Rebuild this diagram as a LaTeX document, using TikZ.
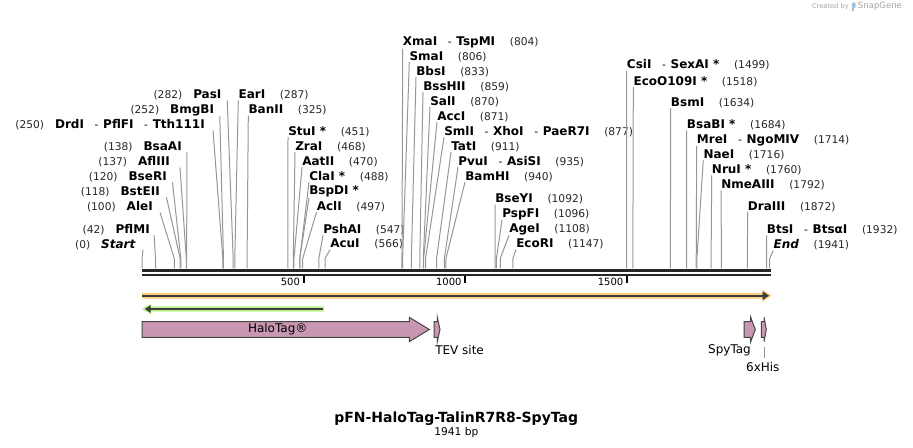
\documentclass[tikz,border=0pt]{standalone}
\usepackage{fontspec}
\setmainfont{DejaVu Sans}
\usepackage{tikz}
\usetikzlibrary{calc}

\definecolor{cutgray}{RGB}{150,150,150}
\definecolor{featpink}{RGB}{201,151,177}
\definecolor{featline}{RGB}{70,70,70}
\definecolor{orfglow}{RGB}{250,204,124}
\definecolor{primglow}{RGB}{188,244,140}
\definecolor{darkline}{RGB}{60,60,60}
\definecolor{marktext}{RGB}{165,165,165}
\definecolor{logoblue}{RGB}{160,196,224}

\newcommand{\enzname}[1]{{\fontsize{9}{10}\selectfont\bfseries #1}}
\newcommand{\enzpos}[1]{{\fontsize{8}{10}\selectfont\color{black!85}(#1)}\hspace{8.25pt}}
\newcommand{\enzat}[1]{\hspace{11pt}{\fontsize{8}{10}\selectfont\color{black!85}(#1)}}
\newcommand{\enzsep}{\hspace{8pt}{\fontsize{8}{10}\selectfont-}\hspace{3.5pt}}

\begin{document}
\begin{tikzpicture}[x=0.75pt,y=0.75pt,yscale=-1,xscale=1,
  lft/.style={anchor=east,inner sep=0pt},
  rgt/.style={anchor=west,inner sep=0pt},
  cut/.style={draw=cutgray,line width=0.75pt},
  bb/.style={draw=black!85,line width=2.2pt},
  tick/.style={draw=black,line width=1.3pt},
  feat/.style={draw=featline,fill=featpink,line width=0.75pt,line join=miter},
  flabel/.style={font=\fontsize{9}{10}\selectfont,inner sep=0pt}]
%set diagram size 913 x 448
\path[use as bounding box] (0,0) rectangle (913,448);

%Cut sites on the sequence
\foreach \n/\p in {Start/0,PflMI/42,AleI/100,BstEII/118,BseRI/120,AflIII/137,BsaAI/138,DrdI/250,BmgBI/252,PasI/282,EarI/287,BanII/325,StuI/451,ZraI/468,AatII/470,ClaI/488,BspDI/488,AclI/497,PshAI/547,AcuI/566,XmaI/804,SmaI/806,BbsI/833,BssHII/859,SalI/870,AccI/871,SmlI/877,TatI/911,PvuI/935,BamHI/940,BseYI/1092,PspFI/1096,AgeI/1108,EcoRI/1147,CsiI/1499,EcoO109I/1518,BsmI/1634,BsaBI/1684,MreI/1714,NaeI/1716,NruI/1760,NmeAIII/1792,DraIII/1872,BtsI/1932,End/1941}
  \coordinate (s\n) at ({142+0.32335*\p},268.5);

%Sequence backbone
\coordinate (bbL) at (142,270.3);
\coordinate (bbR) at (770.5,270.3);
\coordinate (bbL2) at (142,275);
\coordinate (bbR2) at (770.5,275);
\draw[bb] (bbL) -- (bbR);
\draw[bb] (bbL2) -- (bbR2);

%Ruler
\foreach \t in {500,1000,1500}{
  \coordinate (k\t) at ({142+0.32335*\t},276.5);
  \draw[tick] (k\t) -- ++(0,6.5);
  \node[anchor=east,inner sep=0pt,font=\fontsize{7.5}{9}\selectfont] (t\t) at ($(k\t)+(-3.5,5.5)$) {\t};
}

% Text Node -- left labels
\node[lft] (Start) at (136,244.3) {\enzpos{0}\textit{\enzname{Start}}};
\node[lft] (PflMI) at (150,229.5) {\enzpos{42}\enzname{PflMI}};
\node[lft] (AleI) at (153,207) {\enzpos{100}\enzname{AleI}};
\node[lft] (BstEII) at (160,192) {\enzpos{118}\enzname{BstEII}};
\node[lft] (BseRI) at (167,177) {\enzpos{120}\enzname{BseRI}};
\node[lft] (AflIII) at (170,162) {\enzpos{137}\enzname{AflIII}};
\node[lft] (BsaAI) at (182,147) {\enzpos{138}\enzname{BsaAI}};
\node[lft] (DrdI) at (205,125) {\enzpos{250}\enzname{DrdI}\enzsep\enzname{PflFI}\enzsep\enzname{Tth111I}};
\node[lft] (BmgBI) at (214.3,110.5) {\enzpos{252}\enzname{BmgBI}};
\node[lft] (PasI) at (221.7,95) {\enzpos{282}\enzname{PasI}};

\draw[cut] (sStart) -- ++(0,-10) -- ($(Start.south east)+(7,0)$);
\draw[cut] (sPflMI) -- ++(0,-10) -- ($(PflMI.south east)+(4,0)$);
\draw[cut] (sAleI) -- ++(0,-10) -- ($(AleI.south east)+(7,0)$);
\draw[cut] (sBstEII) -- ++(0,-10) -- ($(BstEII.south east)+(6.5,0)$);
\draw[cut] (sBseRI) -- ++(0,-10) -- ($(BseRI.south east)+(5.5,0)$);
\draw[cut] (sAflIII) -- ++(0,-10) -- ($(AflIII.south east)+(10,0)$);
\draw[cut] (sBsaAI) -- ++(0,-10) -- ($(BsaAI.south east)+(5,0)$);
\draw[cut] (sDrdI) -- ++(0,-10) -- ($(DrdI.south east)+(8,0)$);
\draw[cut] (sBmgBI) -- ++(0,-10) -- ($(BmgBI.south east)+(5.5,0)$);
\draw[cut] (sPasI) -- ++(0,-10) -- ($(PasI.south east)+(5.5,0)$);

% Text Node -- right labels
\node[rgt] (EarI) at (238.3,95) {\enzname{EarI}\enzat{287}};
\node[rgt] (BanII) at (248.3,110.3) {\enzname{BanII}\enzat{325}};
\node[rgt] (StuI) at (288,131.7) {\enzname{StuI *}\enzat{451}};
\node[rgt] (ZraI) at (295,146.7) {\enzname{ZraI}\enzat{468}};
\node[rgt] (AatII) at (302,161.7) {\enzname{AatII}\enzat{470}};
\node[rgt] (ClaI) at (309,176.7) {\enzname{ClaI *}\enzat{488}};
\node[rgt] (BspDI) at (309,191.7) {\enzname{BspDI *}};
\node[rgt] (AclI) at (316.5,206.7) {\enzname{AclI}\enzat{497}};
\node[rgt] (PshAI) at (323,229.5) {\enzname{PshAI}\enzat{547}};
\node[rgt] (AcuI) at (330,244.3) {\enzname{AcuI}\enzat{566}};
\node[rgt] (XmaI) at (402.7,42.7) {\enzname{XmaI}\enzsep\enzname{TspMI}\enzat{804}};
\node[rgt] (SmaI) at (409.3,56.7) {\enzname{SmaI}\enzat{806}};
\node[rgt] (BbsI) at (416,71.7) {\enzname{BbsI}\enzat{833}};
\node[rgt] (BssHII) at (423,86.7) {\enzname{BssHII}\enzat{859}};
\node[rgt] (SalI) at (430,101.7) {\enzname{SalI}\enzat{870}};
\node[rgt] (AccI) at (437,116.7) {\enzname{AccI}\enzat{871}};
\node[rgt] (SmlI) at (444,131.7) {\enzname{SmlI}\enzsep\enzname{XhoI}\enzsep\enzname{PaeR7I}\enzat{877}};
\node[rgt] (TatI) at (451,146.7) {\enzname{TatI}\enzat{911}};
\node[rgt] (PvuI) at (458,161.7) {\enzname{PvuI}\enzsep\enzname{AsiSI}\enzat{935}};
\node[rgt] (BamHI) at (465,176.7) {\enzname{BamHI}\enzat{940}};
\node[rgt] (BseYI) at (495,199.3) {\enzname{BseYI}\enzat{1092}};
\node[rgt] (PspFI) at (502,214.3) {\enzname{PspFI}\enzat{1096}};
\node[rgt] (AgeI) at (509,229.3) {\enzname{AgeI}\enzat{1108}};
\node[rgt] (EcoRI) at (516,244.3) {\enzname{EcoRI}\enzat{1147}};
\node[rgt] (CsiI) at (626.7,65) {\enzname{CsiI}\enzsep\enzname{SexAI *}\enzat{1499}};
\node[rgt] (EcoO109I) at (633.3,81.7) {\enzname{EcoO109I *}\enzat{1518}};
\node[rgt] (BsmI) at (670.7,102.7) {\enzname{BsmI}\enzat{1634}};
\node[rgt] (BsaBI) at (686.7,125) {\enzname{BsaBI *}\enzat{1684}};
\node[rgt] (MreI) at (696.7,140) {\enzname{MreI}\enzsep\enzname{NgoMIV}\enzat{1714}};
\node[rgt] (NaeI) at (703.3,155) {\enzname{NaeI}\enzat{1716}};
\node[rgt] (NruI) at (711.7,170) {\enzname{NruI *}\enzat{1760}};
\node[rgt] (NmeAIII) at (721,185) {\enzname{NmeAIII}\enzat{1792}};
\node[rgt] (DraIII) at (747.7,206.7) {\enzname{DraIII}\enzat{1872}};
\node[rgt] (BtsI) at (766.7,230) {\enzname{BtsI}\enzsep\enzname{BtsαI}\enzat{1932}};
\node[rgt] (End) at (773.3,245) {\textit{\enzname{End}}\enzat{1941}};

\foreach \n in {EarI,BanII,StuI,ZraI,AatII,ClaI,BspDI,AclI,PshAI,AcuI,XmaI,SmaI,BbsI,BssHII,SalI,AccI,SmlI,TatI,PvuI,BamHI,BseYI,PspFI,AgeI,EcoRI,CsiI,EcoO109I,BsmI,BsaBI,MreI,NaeI,NruI,NmeAIII,DraIII,BtsI,End}
  \draw[cut] (s\n) -- ++(0,-10) -- (\n.south west);

%Shape: ORF arrow
\fill[orfglow] (142,292.8) -- (762.5,292.8) -- (762.5,289.6) -- (771.5,295.7) -- (762.5,301.8) -- (762.5,298.6) -- (142,298.6) -- cycle;
\draw[darkline,line width=1.6pt] (142,295.7) -- (763,295.7);
\fill[darkline] (762.5,291.3) -- (769,295.7) -- (762.5,300.1) -- cycle;

%Shape: reverse arrow
\fill[primglow] (324,306.3) -- (151,306.3) -- (151,303.4) -- (142,309) -- (151,314.6) -- (151,311.7) -- (324,311.7) -- cycle;
\draw[darkline,line width=1.2pt] (150,309) -- (322.7,309);
\fill[darkline] (150.5,305.2) -- (144.8,309) -- (150.5,312.8) -- cycle;

%Shape: features
\draw[feat] (142,321.7) -- (409.3,321.7) -- (409.3,317.3) -- (429.3,329.5) -- (409.3,341.7) -- (409.3,337.3) -- (142,337.3) -- cycle;
\draw[feat] (434,321.7) -- (437.3,321.7) -- (437.3,317.3) -- (440,329.5) -- (437.3,341.7) -- (437.3,337.3) -- (434,337.3) -- cycle;
\draw[feat] (744,321.7) -- (750.7,321.7) -- (750.7,317.3) -- (755.3,329.5) -- (750.7,341.7) -- (750.7,337.3) -- (744,337.3) -- cycle;
\draw[feat] (761.3,321.7) -- (764,321.7) -- (764,317.3) -- (766.3,329.5) -- (764,341.7) -- (764,337.3) -- (761.3,337.3) -- cycle;

% Text Node -- features
\node[flabel] (halo) at (277.7,329.3) {HaloTag®};
\node[flabel,anchor=west] (tev) at (435,350.3) {TEV site};
\node[flabel] (spy) at (729.5,350.5) {SpyTag};
\node[flabel,inner sep=3pt] (his) at (762.8,366.7) {6xHis};
\coordinate (hisPt) at (764.3,347.3);
\draw[cut] (hisPt) -- (hisPt |- his.north);

% Text Node -- title
\node[font=\fontsize{10.5}{12}\selectfont\bfseries] (title) at (456.2,418.3) {pFN-HaloTag-TalinR7R8-SpyTag};
\node[font=\fontsize{8}{10}\selectfont] (size) at (456.3,432.7) {1941 bp};

% Text Node -- watermark
\node[anchor=east,inner sep=0pt,text=marktext,font=\fontsize{5}{6}\selectfont] (made) at (849,7) {Created by};
\fill[logoblue,rounded corners=0.6] (851.8,2.6) -- (855.6,2.6) -- (855.6,7.8) -- (853.8,7.8) -- (853.8,11.4) -- (851.8,11.4) -- cycle;
\node[anchor=west,inner sep=0pt,text=marktext,font=\fontsize{6.4}{7}\selectfont] (sg) at (857.7,6.6) {SnapGene};

\end{tikzpicture}
\end{document}
